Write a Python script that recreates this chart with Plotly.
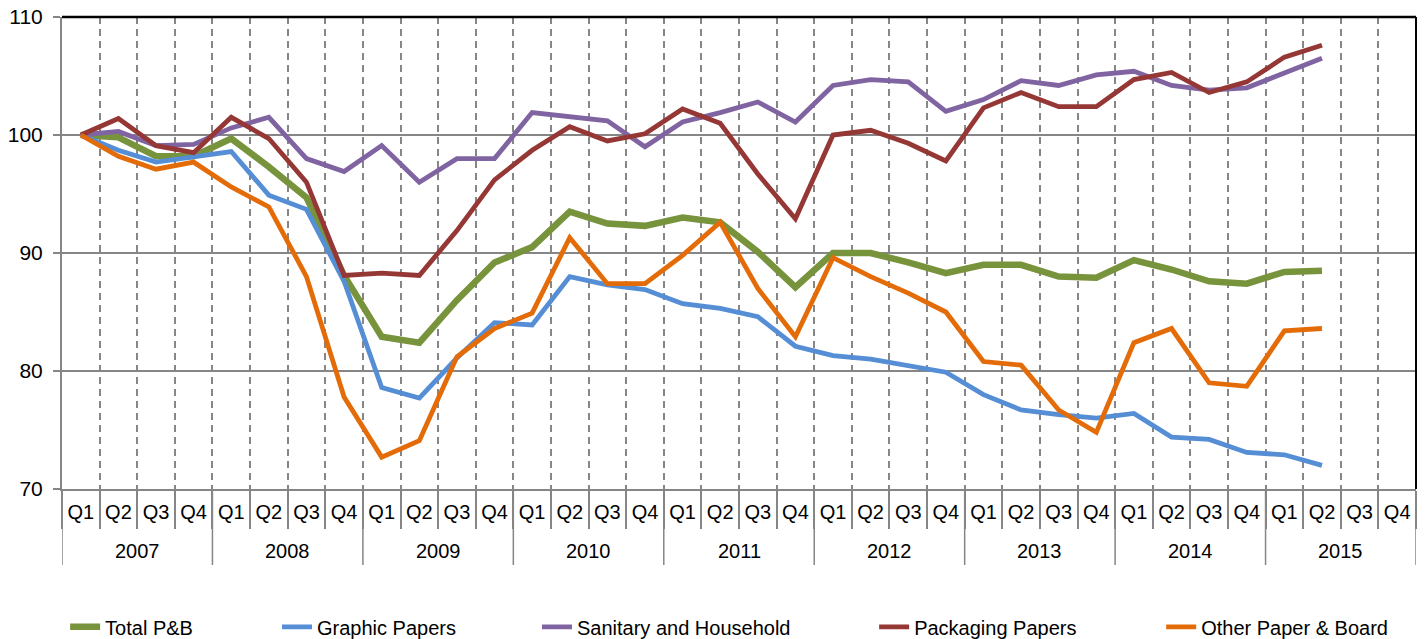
import plotly.graph_objects as go

years = ["2007", "2008", "2009", "2010", "2011", "2012", "2013", "2014", "2015"]
quarters = ["Q1", "Q2", "Q3", "Q4"]

total_pb = [100.0, 99.8, 98.2, 98.2, 99.7, 97.3, 94.7, 88.1, 82.9, 82.4, 86.0, 89.2,
            90.5, 93.5, 92.5, 92.3, 93.0, 92.6, 90.1, 87.1, 90.0, 90.0, 89.2, 88.3,
            89.0, 89.0, 88.0, 87.9, 89.4, 88.6, 87.6, 87.4, 88.4, 88.5]
graphic = [100.0, 98.7, 97.7, 98.1, 98.6, 94.9, 93.7, 87.6, 78.6, 77.7, 81.1, 84.1,
           83.9, 88.0, 87.3, 86.9, 85.7, 85.3, 84.6, 82.1, 81.3, 81.0, 80.5, 79.9,
           78.0, 76.7, 76.3, 76.0, 76.4, 74.4, 74.2, 73.1, 72.9, 72.0]
sanitary = [100.0, 100.3, 99.1, 99.2, 100.6, 101.5, 98.0, 96.9, 99.1, 96.0, 98.0, 98.0,
            101.9, 101.6, 101.2, 99.0, 101.1, 101.9, 102.8, 101.1, 104.2, 104.7, 104.5, 102.0,
            103.0, 104.6, 104.2, 105.1, 105.4, 104.2, 103.8, 104.0, 105.2, 106.5]
packaging = [100.0, 101.4, 99.1, 98.5, 101.5, 99.7, 96.0, 88.1, 88.3, 88.1, 91.9, 96.2,
             98.7, 100.7, 99.5, 100.1, 102.2, 101.0, 96.7, 92.9, 100.0, 100.4, 99.3, 97.8,
             102.3, 103.6, 102.4, 102.4, 104.7, 105.3, 103.6, 104.5, 106.6, 107.6]
other = [100.0, 98.2, 97.1, 97.7, 95.6, 93.9, 88.0, 77.8, 72.7, 74.1, 81.2, 83.6,
         84.9, 91.3, 87.4, 87.4, 89.8, 92.6, 87.0, 82.9, 89.6, 88.0, 86.6, 85.0,
         80.8, 80.5, 76.7, 74.8, 82.4, 83.6, 79.0, 78.7, 83.4, 83.6]

series_names = ["Total P&B", "Graphic Papers", "Sanitary and Household",
                "Packaging Papers", "Other Paper & Board"]
series_values = [total_pb, graphic, sanitary, packaging, other]
series_colors = ["#77933C", "#558ED5", "#8064A2", "#953735", "#E36C09"]
series_widths = [6.5, 4.8, 4.8, 4.8, 4.8]
legend_x = [0.0023, 0.1588, 0.3508, 0.5998, 0.8118]

# unique category per quarter, displayed as Q1..Q4
categories = [f"{y} {q}" for y in years for q in quarters]
cat_text = [q for y in years for q in quarters]
n_all = len(categories)
nq = len(quarters)

FONT = "Liberation Sans, Arial, sans-serif"
GRID = "#868686"

fig = go.Figure()
for i, (name, vals, col, w) in enumerate(zip(series_names, series_values, series_colors, series_widths)):
    fig.add_trace(go.Scatter(
        x=categories[:len(vals)], y=vals, name=name, mode="lines",
        line=dict(color=col, width=w),
        legend="legend" if i == 0 else f"legend{i+1}",
    ))

legend_common = dict(orientation="h", yanchor="middle", y=-0.292, xanchor="left",
                     font=dict(family=FONT, size=20, color="#000000"),
                     bgcolor="rgba(0,0,0,0)")
layout_legends = {}
for i, lx in enumerate(legend_x):
    key = "legend" if i == 0 else f"legend{i+1}"
    layout_legends[key] = dict(legend_common, x=lx)

fig.update_layout(
    width=1428, height=639,
    margin=dict(l=62, r=12, t=17, b=150, autoexpand=False),
    paper_bgcolor="white", plot_bgcolor="white",
    font=dict(family=FONT, size=20, color="#000000"),
    showlegend=True,
    **layout_legends,
)

fig.update_xaxes(
    type="category",
    categoryorder="array", categoryarray=categories,
    tickvals=categories, ticktext=cat_text,
    range=[-0.5, n_all - 0.5],
    tickson="boundaries",
    ticks="outside", ticklen=38, tickcolor=GRID, tickwidth=1.5,
    ticklabelstandoff=4,
    showgrid=True, gridcolor=GRID, gridwidth=1.5, griddash="7px,5px",
    showline=True, linecolor=GRID, linewidth=2,
    tickfont=dict(family=FONT, size=20, color="#000000"),
    zeroline=False,
)
fig.update_yaxes(
    range=[70, 110], dtick=10, tick0=70,
    ticks="outside", ticklen=7, tickcolor=GRID, tickwidth=2,
    ticklabelstandoff=6,
    showgrid=True, gridcolor=GRID, gridwidth=2,
    showline=True, linecolor=GRID, linewidth=2,
    tickfont=dict(family=FONT, size=21, color="#000000"),
    zeroline=False,
)

# year group labels and dividers under the quarter labels
for k, yr in enumerate(years):
    fig.add_annotation(x=k * nq + (nq - 1) / 2, y=-0.131, xref="x", yref="paper",
                       text=yr, showarrow=False, yanchor="middle",
                       font=dict(family=FONT, size=20, color="#000000"))
for k in range(len(years) + 1):
    fig.add_shape(type="line", xref="x", yref="paper",
                  x0=k * nq - 0.5, x1=k * nq - 0.5, y0=0, y1=-0.161,
                  line=dict(color=GRID, width=1.5))

fig.add_shape(type="line", xref="paper", yref="paper", x0=0, x1=1, y0=1, y1=1,
              line=dict(color="#000000", width=2.5))
fig.add_shape(type="line", xref="paper", yref="paper", x0=1, x1=1, y0=0, y1=1,
              line=dict(color="#000000", width=2))

fig.write_html("out.html", config={"displayModeBar": False},
               post_script="document.body.style.margin='0';document.body.style.overflow='hidden';")
